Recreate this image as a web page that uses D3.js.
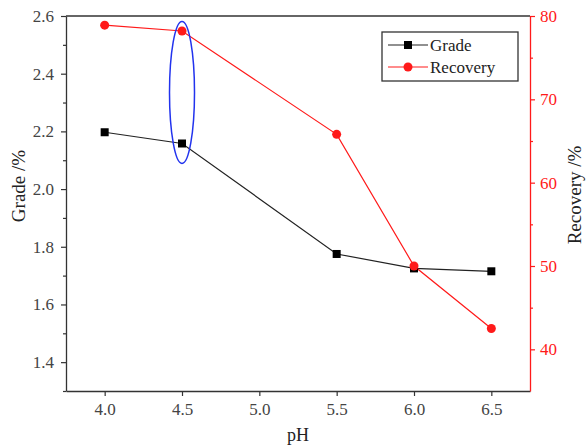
<!DOCTYPE html>
<html><head><meta charset="utf-8">
<script src="https://cdn.jsdelivr.net/npm/d3@7"></script>
<style>body{margin:0;background:#fff}svg{display:block}svg text{font-family:"Liberation Serif","Times New Roman",serif !important}</style>
</head><body><svg id="c" width="587" height="445"></svg>
<script>
const pH = [4.0, 4.5, 5.5, 6.0, 6.5];
const grade = [2.197, 2.158, 1.775, 1.725, 1.715];
const recovery = [78.9, 78.2, 65.8, 50.0, 42.5];
const xTicks = [4.0, 4.5, 5.0, 5.5, 6.0, 6.5];
const gradeTicks = [1.4, 1.6, 1.8, 2.0, 2.2, 2.4, 2.6];
const recTicks = [40, 50, 60, 70, 80];

const svg = d3.select("#c");
const L = 66, R = 530, T = 16, B = 391;
const x = d3.scaleLinear().domain([3.75, 6.75]).range([L, R]);
const yG = d3.scaleLinear().domain([1.3, 2.6]).range([B, T]);
const yR = d3.scaleLinear().domain([35, 80]).range([B, T]);
const axisCol = "#333";
const FF = '"Liberation Serif","Times New Roman",serif';

// frame: top line
svg.append("line").attr("x1", L).attr("x2", R).attr("y1", T).attr("y2", T).attr("stroke", axisCol).attr("stroke-width", 1.3);

// bottom axis
const gx = svg.append("g").attr("transform", `translate(0,${B})`)
  .call(d3.axisBottom(x).tickValues(xTicks).tickFormat(d3.format(".1f")).tickSize(5).tickSizeOuter(0))
  .attr("font-family", FF);
gx.select(".domain").attr("stroke", axisCol).attr("stroke-width", 1.3);
gx.selectAll(".tick line").attr("stroke", axisCol).attr("stroke-width", 1.2);
gx.selectAll(".tick text").style("font-family", FF).attr("font-size", 17).attr("fill", "#444").attr("dy", "0.95em");

// left axis
const gl = svg.append("g").attr("transform", `translate(${L},0)`)
  .call(d3.axisLeft(yG).tickValues(gradeTicks).tickFormat(d3.format(".1f")).tickSize(5).tickSizeOuter(0))
  .attr("font-family", FF);
gl.select(".domain").attr("stroke", axisCol).attr("stroke-width", 1.3);
gl.selectAll(".tick line").attr("stroke", axisCol).attr("stroke-width", 1.2);
gl.selectAll(".tick text").style("font-family", FF).attr("font-size", 17).attr("fill", "#444").attr("x", -12);
const glm = svg.append("g").attr("transform", `translate(${L},0)`)
  .call(d3.axisLeft(yG).tickValues([1.3, 1.5, 1.7, 1.9, 2.1, 2.3, 2.5]).tickFormat("").tickSize(3).tickSizeOuter(0));
glm.select(".domain").remove();
glm.selectAll(".tick line").attr("stroke", axisCol).attr("stroke-width", 1.2);

// right axis (red)
const red = "#ff1a1a";
const gr = svg.append("g").attr("transform", `translate(${R},0)`)
  .call(d3.axisRight(yR).tickValues(recTicks).tickFormat(d3.format("d")).tickSize(5).tickSizeOuter(0))
  .attr("font-family", FF);
gr.select(".domain").attr("stroke", red).attr("stroke-width", 1.3);
gr.selectAll(".tick line").attr("stroke", red).attr("stroke-width", 1.2);
gr.selectAll(".tick text").style("font-family", FF).attr("font-size", 17).attr("fill", red).attr("x", 10);
const grm = svg.append("g").attr("transform", `translate(${R},0)`)
  .call(d3.axisRight(yR).tickValues([45, 55, 65, 75]).tickFormat("").tickSize(3).tickSizeOuter(0));
grm.select(".domain").remove();
grm.selectAll(".tick line").attr("stroke", red).attr("stroke-width", 1.2);

// axis titles
svg.append("text").attr("x", x(5.25)).attr("y", 441).attr("text-anchor", "middle").attr("font-size", 18).attr("fill", "#222").text("pH");
svg.append("text").attr("transform", `translate(25,186) rotate(-90)`).attr("text-anchor", "middle").attr("font-size", 19).attr("fill", "#222").text("Grade /%");
svg.append("text").attr("transform", `translate(581,195) rotate(-90)`).attr("text-anchor", "middle").attr("font-size", 19).attr("fill", "#222").text("Recovery /%");

// lines
const idx = d3.range(pH.length);
svg.append("path").datum(idx).attr("fill", "none").attr("stroke", "#222").attr("stroke-width", 1.2)
  .attr("d", d3.line().x(i => x(pH[i])).y(i => yG(grade[i])));
svg.append("path").datum(idx).attr("fill", "none").attr("stroke", red).attr("stroke-width", 1.2)
  .attr("d", d3.line().x(i => x(pH[i])).y(i => yR(recovery[i])));

// markers
svg.selectAll(".sq").data(idx).enter().append("rect")
  .attr("x", i => x(pH[i]) - 4).attr("y", i => yG(grade[i]) - 4).attr("width", 8).attr("height", 8).attr("fill", "#000");
svg.selectAll(".ci").data(idx).enter().append("circle")
  .attr("cx", i => x(pH[i])).attr("cy", i => yR(recovery[i])).attr("r", 4.5).attr("fill", red);

// blue ellipse highlighting pH 4.5
svg.append("ellipse").attr("cx", x(4.5)).attr("cy", yG(2.335)).attr("rx", 12.5).attr("ry", 71)
  .attr("fill", "none").attr("stroke", "#2233ee").attr("stroke-width", 1.5);

// legend
const lg = svg.append("g");
lg.append("rect").attr("x", 382).attr("y", 32).attr("width", 136).attr("height", 49).attr("fill", "#fff").attr("stroke", "#333").attr("stroke-width", 1.3);
lg.append("line").attr("x1", 388).attr("x2", 428).attr("y1", 45).attr("y2", 45).attr("stroke", "#222").attr("stroke-width", 1.2);
lg.append("rect").attr("x", 404).attr("y", 41).attr("width", 8).attr("height", 8).attr("fill", "#000");
lg.append("text").attr("x", 430).attr("y", 51).attr("font-size", 17).attr("fill", "#222").text("Grade");
lg.append("line").attr("x1", 388).attr("x2", 428).attr("y1", 67).attr("y2", 67).attr("stroke", red).attr("stroke-width", 1.2);
lg.append("circle").attr("cx", 408).attr("cy", 67).attr("r", 4.5).attr("fill", red);
lg.append("text").attr("x", 430).attr("y", 73).attr("font-size", 17).attr("fill", "#222").text("Recovery");
</script></body></html>
